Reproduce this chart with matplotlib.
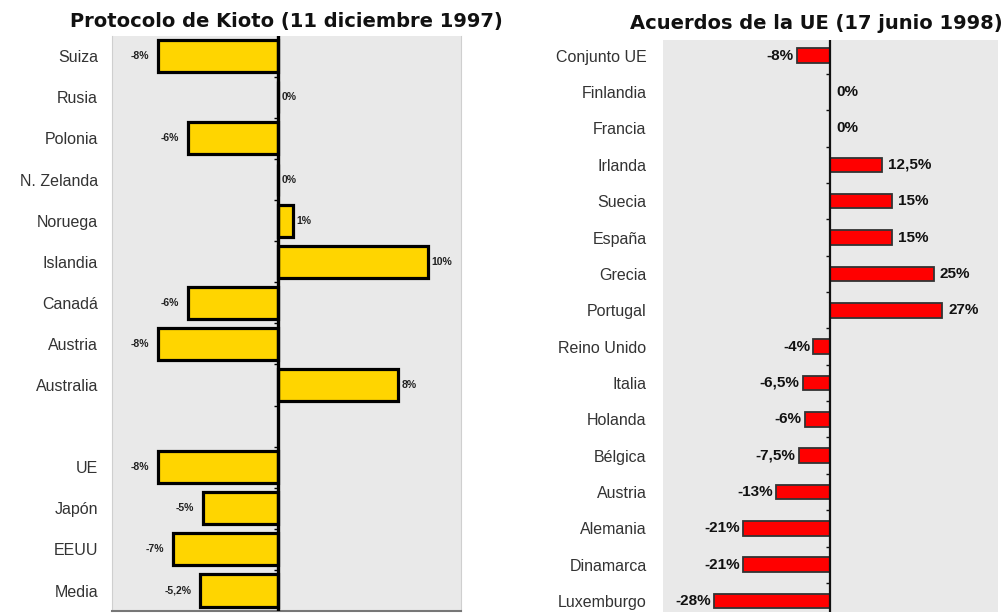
import numpy as np
import matplotlib.pyplot as plt

plt.rcParams["font.family"] = ["Liberation Sans", "DejaVu Sans"]

# Protocolo de Kioto (blank entry = empty slot between groups)
kioto_countries = ["Suiza", "Rusia", "Polonia", "N. Zelanda", "Noruega", "Islandia",
                   "Canadá", "Austria", "Australia", "", "UE", "Japón", "EEUU", "Media"]
kioto_values = [-8, 0, -6, 0, 1, 10, -6, -8, 8, None, -8, -5, -7, -5.2]
kioto_labels = ["-8%", "0%", "-6%", "0%", "1%", "10%", "-6%", "-8%", "8%", "",
                "-8%", "-5%", "-7%", "-5,2%"]

# Acuerdos de la UE
ue_countries = ["Conjunto UE", "Finlandia", "Francia", "Irlanda", "Suecia", "España",
                "Grecia", "Portugal", "Reino Unido", "Italia", "Holanda", "Bélgica",
                "Austria", "Alemania", "Dinamarca", "Luxemburgo"]
ue_values = [-8, 0, 0, 12.5, 15, 15, 25, 27, -4, -6.5, -6, -7.5, -13, -21, -21, -28]
ue_labels = ["-8%", "0%", "0%", "12,5%", "15%", "15%", "25%", "27%", "-4%", "-6,5%",
             "-6%", "-7,5%", "-13%", "-21%", "-21%", "-28%"]

BG = "#e9e9e9"
TITLE_FONT = dict(fontsize=14, fontweight="bold", color="#111111",
                  family=["DejaVu Sans"])
fig = plt.figure(figsize=(10.08, 6.16), dpi=100)

# ---------- left panel ----------
ax1 = fig.add_axes([0.111, 0.008, 0.346, 0.934])
ax1.set_facecolor(BG)
pos1 = np.arange(len(kioto_countries))
idx = [i for i, v in enumerate(kioto_values) if v is not None]
vals = np.array([kioto_values[i] for i in idx], dtype=float)
ax1.barh(pos1[idx], vals, height=0.78, color="#ffd500", edgecolor="black",
         linewidth=2.3, zorder=3)
ax1.axvline(0, color="black", linewidth=2.4, zorder=4)
for i in idx:
    v = kioto_values[i]
    if v < 0:
        ax1.text(v - 0.6, pos1[i], kioto_labels[i], ha="right", va="center",
                 fontsize=7.5, fontweight="bold", color="#222222", zorder=5)
    else:
        ax1.text(v + 0.25, pos1[i], kioto_labels[i], ha="left", va="center",
                 fontsize=7.5, fontweight="bold", color="#222222", zorder=5)
# small ticks on zero line at category boundaries
bnd1 = pos1[:-1] + 0.5
ax1.hlines(bnd1, -0.25, 0, color="black", linewidth=1, zorder=4)
ax1.set_xlim(-11.1, 12.2)
ax1.set_ylim(13.5, -0.5)
ax1.set_yticks(pos1)
ax1.set_yticklabels(kioto_countries, fontsize=11.5, color="#333333")
ax1.tick_params(axis="y", length=0, pad=10)
ax1.set_xticks([])
for s in ["left", "right", "top"]:
    ax1.spines[s].set_color("#cfcfcf")
ax1.spines["top"].set_visible(False)
ax1.spines["bottom"].set_color("#777777")
ax1.spines["bottom"].set_linewidth(1.5)
fig.text(0.284, 0.965, "Protocolo de Kioto (11 diciembre 1997)", ha="center",
         va="center", **TITLE_FONT)

# ---------- right panel ----------
ax2 = fig.add_axes([0.658, 0.0065, 0.332, 0.929])
ax2.set_facecolor(BG)
pos2 = np.arange(len(ue_countries))
ax2.barh(pos2, ue_values, height=0.4, color="#ff0000", edgecolor="#333333",
         linewidth=1.3, zorder=3)
ax2.axvline(0, color="#111111", linewidth=1.6, zorder=4)
for p, v, lab in zip(pos2, ue_values, ue_labels):
    if v < 0:
        ax2.text(v - 0.8, p, lab, ha="right", va="center", fontsize=11,
                 fontweight="bold", color="#111111", zorder=5)
    else:
        ax2.text(v + 1.5, p, lab, ha="left", va="center", fontsize=11,
                 fontweight="bold", color="#111111", zorder=5)
bnd2 = pos2[:-1] + 0.5
ax2.hlines(bnd2, -1.0, 0, color="#111111", linewidth=1, zorder=4)
ax2.set_xlim(-40.2, 40.5)
ax2.set_ylim(15.3, -0.44)
ax2.set_yticks(pos2)
ax2.set_yticklabels(ue_countries, fontsize=11.5, color="#333333")
ax2.tick_params(axis="y", length=0, pad=12)
ax2.set_xticks([])
for s in ax2.spines.values():
    s.set_visible(False)
fig.text(0.81, 0.962, "Acuerdos de la UE (17 junio 1998)", ha="center",
         va="center", **TITLE_FONT)

fig.savefig("out.png", dpi=100)
